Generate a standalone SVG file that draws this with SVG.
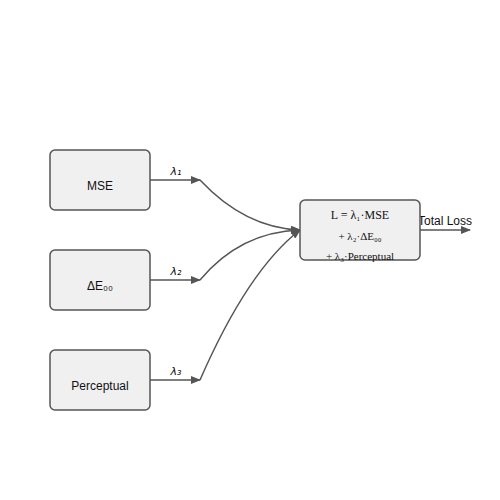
<svg xmlns="http://www.w3.org/2000/svg" width="500" height="500" viewBox="0 0 500 500">
<style>
.box{fill:#f0f0f0;stroke:#555;stroke-width:1.5}
.lbl{font-family:"Liberation Sans",Arial,sans-serif;font-size:12px;fill:#111;text-anchor:middle}
.f{font-family:"Liberation Serif","Times New Roman",serif;font-size:11px;fill:#111;text-anchor:middle}
.e{fill:none;stroke:#555;stroke-width:1.5}
.l{font-family:"DejaVu Sans",sans-serif;font-size:11px;font-style:italic;fill:#111;text-anchor:middle}
</style>
<defs>
<marker id="ah" markerWidth="10" markerHeight="8" refX="9" refY="4" orient="auto" markerUnits="userSpaceOnUse">
<path d="M0,0 L10,4 L0,8 Z" fill="#555"/>
</marker>
</defs>
<rect width="500" height="500" fill="#fff"/>
<g id="connectors">
<path class="e" d="M150,180 L200,180" marker-end="url(#ah)"/>
<path class="e" d="M150,280 L200,280" marker-end="url(#ah)"/>
<path class="e" d="M150,380 L200,380" marker-end="url(#ah)"/>
<path class="e" d="M200,180 Q245,228 300,230" marker-end="url(#ah)"/>
<path class="e" d="M200,280 Q240,232 300,230" marker-end="url(#ah)"/>
<path class="e" d="M200,380 Q248,270 300,230" marker-end="url(#ah)"/>
<path class="e" d="M420,230 L470,230" marker-end="url(#ah)"/>
<text class="l" x="176" y="175">λ₁</text>
<text class="l" x="176" y="275">λ₂</text>
<text class="l" x="176" y="375">λ₃</text>
<text class="lbl" x="445" y="225">Total Loss</text>
</g>
<g id="mse"><rect class="box" x="50" y="150" width="100" height="60" rx="5"/><text class="lbl" x="100" y="190">MSE</text></g>
<g id="de"><rect class="box" x="50" y="250" width="100" height="60" rx="5"/><text class="lbl" x="100" y="290">ΔE₀₀</text></g>
<g id="perc"><rect class="box" x="50" y="350" width="100" height="60" rx="5"/><text class="lbl" x="100" y="390">Perceptual</text></g>
<g id="total"><rect class="box" x="300" y="200" width="120" height="60" rx="5"/>
<text class="f" x="360" y="219" style="font-size:12px">L = λ₁·MSE</text>
<text class="f" x="360" y="240">+ λ₂·ΔE₀₀</text>
<text class="f" x="360" y="260">+ λ₃·Perceptual</text>
</g>
</svg>
